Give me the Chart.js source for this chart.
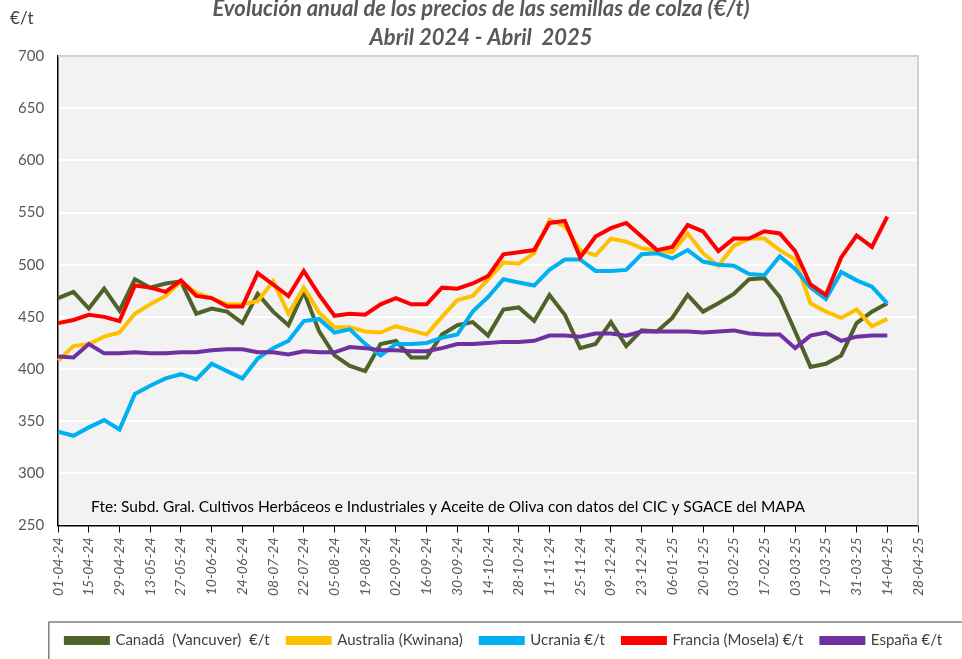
<!DOCTYPE html>
<html lang="es">
<head>
<meta charset="UTF-8">
<title>Semillas de colza</title>
<script src="https://cdn.jsdelivr.net/npm/chart.js"></script>
<style>
  body { margin: 0; background: #fff; }
</style>
</head>
<body>
<canvas id="myChart" width="962" height="659"></canvas>
<script>
// semanas (lunes) abril 2024 - abril 2025
const categories = [
  '01-04-24','08-04-24','15-04-24','22-04-24','29-04-24','06-05-24','13-05-24','20-05-24','27-05-24',
  '03-06-24','10-06-24','17-06-24','24-06-24','01-07-24','08-07-24','15-07-24','22-07-24','29-07-24',
  '05-08-24','12-08-24','19-08-24','26-08-24','02-09-24','09-09-24','16-09-24','23-09-24','30-09-24',
  '07-10-24','14-10-24','21-10-24','28-10-24','04-11-24','11-11-24','18-11-24','25-11-24',
  '02-12-24','09-12-24','16-12-24','23-12-24','30-12-24','06-01-25','13-01-25','20-01-25','27-01-25',
  '03-02-25','10-02-25','17-02-25','24-02-25','03-03-25','10-03-25','17-03-25','24-03-25','31-03-25',
  '07-04-25','14-04-25','21-04-25','28-04-25'
];

const canada = [468,474,458,477,456,486,478,482,484,453,458,455,444,472,455,442,474,436,413,403,398,424,427,411,411,433,442,445,432,457,459,446,471,452,420,424,445,422,437,436,449,471,455,463,472,486,487,469,436,402,405,413,444,455,463];
const australia = [408,422,424,431,435,453,462,470,484,473,468,462,462,465,484,453,478,454,440,440,436,435,441,437,433,450,466,470,486,502,501,511,543,537,514,509,525,522,516,513,512,530,511,499,518,525,525,514,505,463,455,449,457,441,448];
const ucrania = [340,336,344,351,342,376,384,391,395,390,405,398,391,410,420,427,446,448,435,438,424,413,424,424,425,430,433,455,469,486,483,480,495,505,505,494,494,495,510,511,506,514,503,500,499,491,490,508,496,478,467,493,485,479,463];
const francia = [444,447,452,450,446,480,478,474,485,470,468,460,460,492,481,470,494,471,451,453,452,462,468,462,462,478,477,482,489,510,512,514,540,542,507,527,535,540,527,514,517,538,532,513,525,525,532,530,513,481,471,507,528,517,546];
const espana = [412,411,424,415,415,416,415,415,416,416,418,419,419,416,416,414,417,416,416,421,420,418,418,417,417,420,424,424,425,426,426,427,432,432,431,434,434,432,436,436,436,436,435,436,437,434,433,433,420,432,435,427,431,432,432];

const seriesNames = ['Canadá  (Vancuver)  €/t', 'Australia (Kwinana)', 'Ucrania €/t', 'Francia (Mosela) €/t', 'España €/t'];
const seriesColors = ['#4F6228', '#FFC000', '#00B0F0', '#FF0000', '#7030A0'];
const seriesData = [canada, australia, ucrania, francia, espana];

const yTicks = { min: 250, max: 700, step: 50 };

const FONT = "Lato, 'Open Sans', Arial, sans-serif";

const decor = {
  id: 'decor',
  afterLayout(chart) {
    // en el original leyenda y titulo no estan centrados sobre el area
    chart.legend.left += 43;
    chart.legend.right += 43;
    chart.titleBlock.left += 20;
    chart.titleBlock.right += 20;
  },
  beforeDraw(chart) {
    const { ctx, chartArea: a } = chart;
    ctx.save();
    ctx.fillStyle = '#F2F2F2';
    ctx.fillRect(a.left, a.top, a.right - a.left, a.bottom - a.top);
    ctx.restore();
  },
  afterDraw(chart) {
    const { ctx, chartArea: a } = chart;
    ctx.save();
    // marco gris del area
    ctx.strokeStyle = '#D0D0D0';
    ctx.lineWidth = 2;
    ctx.beginPath();
    ctx.moveTo(a.left, a.top);
    ctx.lineTo(a.right, a.top);
    ctx.lineTo(a.right, a.bottom);
    ctx.stroke();
    // unidad
    ctx.fillStyle = '#404040';
    ctx.font = '17px ' + FONT;
    ctx.textBaseline = 'middle';
    ctx.fillText('€/t', a.left - 48, a.top - 38);
    // fuente
    ctx.fillStyle = '#000';
    ctx.font = '15.5px ' + FONT;
    ctx.fillText('Fte: Subd. Gral. Cultivos Herbáceos e Industriales y Aceite de Oliva con datos del CIC y SGACE del MAPA', a.left + 33, a.bottom - 18);
    // caja de la leyenda
    const boxes = chart.legend.legendHitBoxes;
    if (boxes && boxes.length) {
      const top = Math.min(...boxes.map(b => b.top));
      const left = Math.min(...boxes.map(b => b.left));
      ctx.strokeStyle = '#404040';
      ctx.lineWidth = 1;
      ctx.strokeRect(left - 17, top - 11, chart.width, 60);
    }
    ctx.restore();
  }
};

const ctx = document.getElementById('myChart').getContext('2d');
const myChart = new Chart(ctx, {
  type: 'line',
  data: {
    labels: categories,
    datasets: seriesData.map((d, i) => ({
      label: seriesNames[i],
      data: d,
      borderColor: seriesColors[i],
      backgroundColor: seriesColors[i],
      borderWidth: 4,
      pointRadius: 0,
      tension: 0,
      fill: false,
      order: seriesData.length - i
    }))
  },
  options: {
    responsive: false,
    animation: false,
    layout: { padding: { left: 4, right: 44, top: 0, bottom: 1 } },
    plugins: {
      title: {
        display: true,
        text: ['Evolución anual de los precios de las semillas de colza (€/t)', 'Abril 2024 - Abril  2025'],
        color: '#595959',
        font: { family: FONT, size: 22, weight: 'bold', style: 'italic', lineHeight: 1.32 },
        padding: { top: -6, bottom: 4 }
      },
      legend: {
        position: 'bottom',
        labels: {
          boxWidth: 42,
          boxHeight: 5,
          padding: 18,
          color: '#404040',
          font: { family: FONT, size: 15 },
          sort: (a, b) => a.datasetIndex - b.datasetIndex
        }
      },
      tooltip: { enabled: false }
    },
    scales: {
      x: {
        afterFit: s => { s.height += 14; },
        grid: {
          drawOnChartArea: false,
          drawTicks: true,
          tickLength: 7,
          color: c => (c.index % 2 === 0 ? '#000' : 'rgba(0,0,0,0)')
        },
        border: { display: true, color: '#000', width: 1.5 },
        ticks: {
          autoSkip: false,
          minRotation: 90,
          maxRotation: 90,
          padding: 5,
          color: '#595959',
          font: { family: FONT, size: 14, style: 'italic' },
          callback: (v, i) => (i % 2 === 0 ? categories[i] : '')
        }
      },
      y: {
        min: yTicks.min,
        max: yTicks.max,
        ticks: {
          stepSize: yTicks.step,
          padding: 14,
          color: '#595959',
          font: { family: FONT, size: 15 }
        },
        grid: { color: '#FFFFFF', lineWidth: 2, drawTicks: false },
        border: { display: true, color: '#000', width: 1.5 }
      }
    }
  },
  plugins: [decor]
});
</script>
</body>
</html>
